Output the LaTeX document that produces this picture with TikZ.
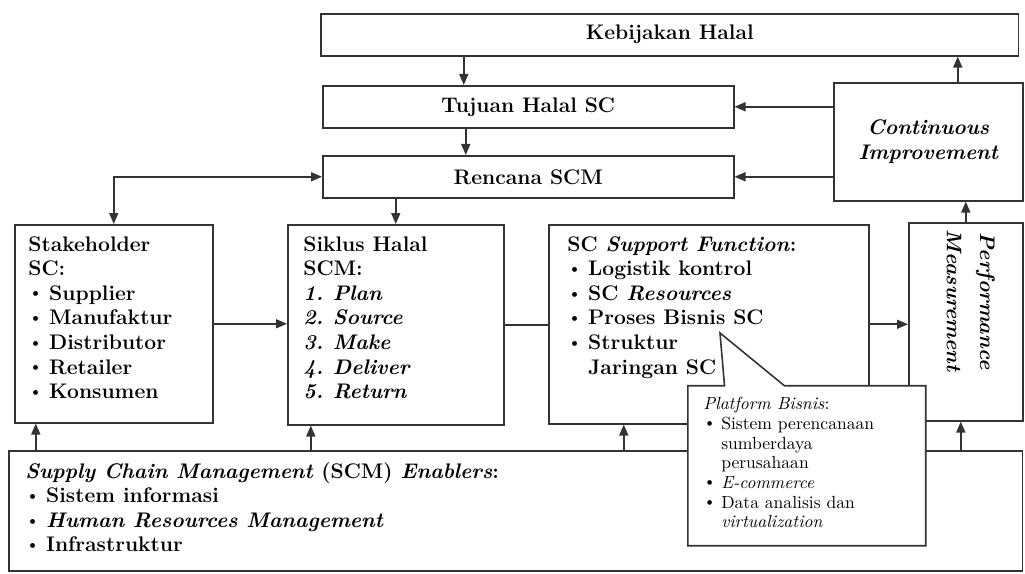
\documentclass[tikz,border=0pt]{standalone}
\usepackage{tikz}
\usetikzlibrary{positioning,shapes.callouts,arrows.meta}

\tikzset{
  box/.style={draw=black!80,line width=.9pt,anchor=north west,inner sep=0,
    font=\fontsize{12}{14}\selectfont\bfseries},
  boxtext/.style={anchor=north west,align=left,inner sep=0,
    font=\fontsize{12}{14}\selectfont\bfseries},
  link/.style={draw=black!80,line width=.9pt},
}
\newcommand{\itm}{\raisebox{.25ex}{\small\textbullet}\hspace{.3em}}
\newcommand{\nomor}[1]{\makebox[1.4em][l]{#1}}

\begin{document}
\begin{tikzpicture}[x=0.02cm,y=-0.02cm,>={Triangle[length=2.2mm,width=1.8mm]}]
\useasboundingbox (0,0) rectangle (1025,574);

% atas
\node[box,minimum width=13.96cm,minimum height=0.84cm] (kebijakan) at (320,13) {Kebijakan Halal};
\node[box,minimum width=8.22cm,minimum height=0.84cm] (tujuan) at (322,85) {Tujuan Halal SC};
\node[box,minimum width=8.22cm,minimum height=0.84cm] (rencana) at (322,155) {Rencana SCM};
\node[box,minimum width=3.78cm,minimum height=2.36cm,align=center] (improve) at (833,82)
  {\itshape Continuous\\\itshape Improvement};

% tengah
\node[box,minimum width=3.96cm,minimum height=3.96cm] (stake) at (14,224) {};
\node[boxtext,below right=0.24cm and 0.28cm of stake.north west] (stake-t)
  {Stakeholder\\SC:\\\itm Supplier\\\itm Manufaktur\\\itm Distributor\\\itm Retailer\\\itm Konsumen};
\node[box,minimum width=4.32cm,minimum height=4cm] (siklus) at (287,224) {};
\node[boxtext,below right=0.24cm and 0.32cm of siklus.north west] (siklus-t)
  {Siklus Halal\\SCM:\\\itshape\nomor{1.}Plan\\\itshape\nomor{2.}Source\\\itshape\nomor{3.}Make\\
   \itshape\nomor{4.}Deliver\\\itshape\nomor{5.}Return};
\node[box,minimum width=6.4cm,minimum height=3.98cm] (support) at (548,224) {};
\node[boxtext,below right=0.24cm and 0.38cm of support.north west] (support-t)
  {SC \textit{Support Function}:\\\itm Logistik kontrol\\\itm SC \textit{Resources}\\
   \itm Proses Bisnis SC\\\itm Struktur\\\phantom{\itm}Jaringan SC};
\node[box,minimum width=2.28cm,minimum height=3.96cm] (perform) at (908,222) {};
\node[boxtext,anchor=center,align=center,rotate=-90,font=\fontsize{12}{19}\selectfont\bfseries]
  (perform-t) at ([xshift=0.1cm,yshift=0.42cm]perform.center)
  {\itshape Performance\\\itshape Measurement};

% bawah
\node[box,minimum width=20.28cm,minimum height=2.4cm] (enabler) at (8,450) {};
\node[boxtext,below right=0.24cm and 0.34cm of enabler.north west] (enabler-t)
  {\textit{Supply Chain Management} (SCM) \textit{Enablers}:\\\itm Sistem informasi\\
   \itm \textit{Human Resources Management}\\\itm Infrastruktur};

\draw[link,->] ([xshift=-1.29cm]tujuan.north |- kebijakan.south) -- ([xshift=-1.29cm]tujuan.north);
\draw[link,->] ([xshift=-1.25cm]tujuan.south) -- ([xshift=-1.25cm]tujuan.south |- rencana.north);
\draw[link,->] (rencana.south -| siklus.north) -- (siklus.north);
\draw[link,<->] (stake.north) |- (rencana.west);
\draw[link,->] (improve.west |- tujuan.east) -- (tujuan.east);
\draw[link,->] (improve.west |- rencana.east) -- (rencana.east);
\draw[link,->] ([xshift=0.59cm]improve.north) -- ([xshift=0.59cm]improve.north |- kebijakan.south);
\draw[link,->] (perform.north) -- (perform.north |- improve.south);
\draw[link,->] (stake.east) -- (stake.east -| siklus.west);
\draw[link] (siklus.east) -- (siklus.east -| support.west);
\draw[link,->] (support.east) -- (support.east -| perform.west);
\foreach \n/\s in {stake/-1.56,siklus/-1.7,support/-1.7,perform/-0.1}
  \draw[link,->] ([xshift=\s cm]\n.south |- enabler.north) -- ([xshift=\s cm]\n.south);

% platform
\coordinate (tip) at (720,333);
\node[box,rectangle callout,fill=white,callout absolute pointer={(tip)},callout pointer width=1.2cm,
  minimum width=4.76cm,minimum height=3.2cm] (platform) at (687,385) {};
\node[boxtext,font=\fontsize{10}{11.2}\selectfont,below right=0.24cm and 0.32cm of platform.north west] (platform-t)
  {\textit{Platform Bisnis}:\\\itm Sistem perencanaan\\\phantom{\itm}sumberdaya\\\phantom{\itm}perusahaan\\
   \itm \textit{E-commerce}\\\itm Data analisis dan\\\phantom{\itm}\textit{virtualization}};
\end{tikzpicture}
\end{document}
